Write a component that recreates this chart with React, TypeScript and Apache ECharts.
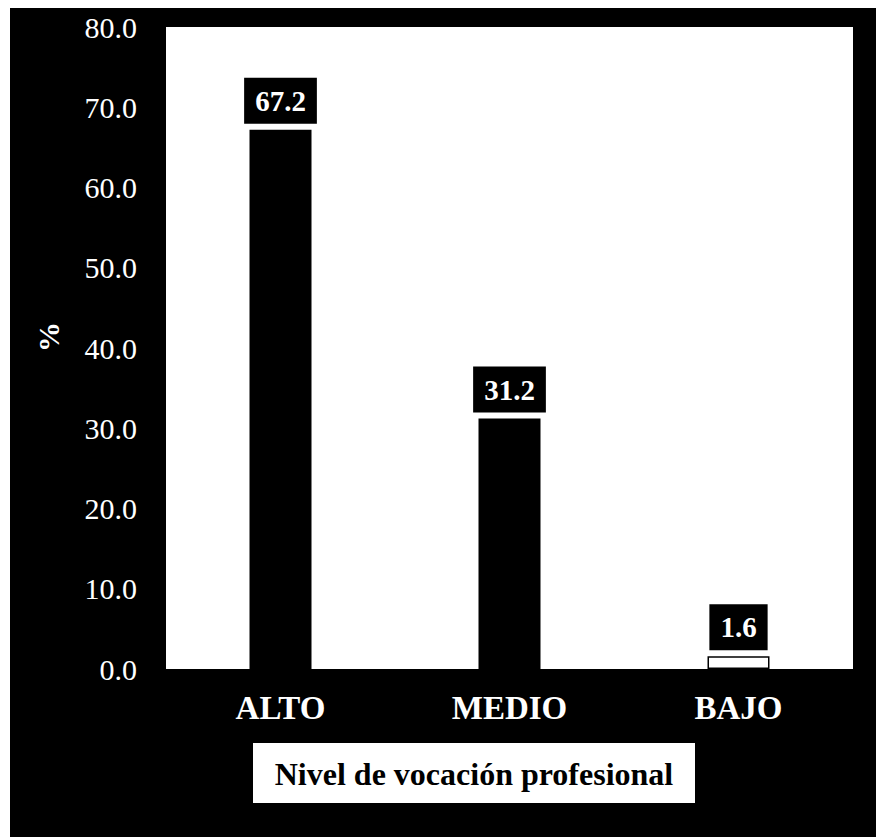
import React, { useEffect, useRef } from "react";
import * as echarts from "echarts";

const categories = ["ALTO", "MEDIO", "BAJO"];
const values = [67.2, 31.2, 1.6];
const yTicks = ["0.0", "10.0", "20.0", "30.0", "40.0", "50.0", "60.0", "70.0", "80.0"];
const yName = "%";
const xTitle = "Nivel de vocación profesional";

const SERIF = "Times New Roman, Liberation Serif, DejaVu Serif, serif";

export default function App() {
  const ref = useRef<HTMLDivElement>(null);
  useEffect(() => {
    if (!ref.current) return;
    const chart = echarts.init(ref.current, null, { renderer: "svg" });
    const data = values.map((v, i) => ({
      value: v,
      itemStyle:
        i === values.length - 1
          ? { color: "#ffffff", borderColor: "#000000", borderWidth: 1.5 }
          : { color: "#000000" },
    }));
    chart.setOption({
      animation: false,
      backgroundColor: "transparent",
      textStyle: { fontFamily: SERIF },
      graphic: [
        {
          type: "rect",
          z: -10,
          silent: true,
          shape: { x: 10, y: 8, width: 866, height: 829 },
          style: { fill: "#000000" },
        },
        {
          type: "rect",
          z: 10,
          shape: { x: 253, y: 743, width: 442, height: 60 },
          style: { fill: "#ffffff" },
        },
        {
          type: "text",
          z: 11,
          x: 474,
          y: 774,
          style: {
            text: xTitle,
            fill: "#000000",
            fontFamily: SERIF,
            fontWeight: "bold",
            fontSize: 32,
            align: "center",
            verticalAlign: "middle",
          },
        },
        {
          type: "text",
          z: 11,
          x: 48,
          y: 337,
          rotation: Math.PI / 2,
          style: {
            text: yName,
            fill: "#ffffff",
            fontFamily: SERIF,
            fontWeight: "bold",
            fontSize: 30,
            align: "center",
            verticalAlign: "middle",
          },
        },
      ],
      grid: {
        left: 166,
        top: 27,
        width: 687,
        height: 642,
        show: true,
        backgroundColor: "#ffffff",
        borderWidth: 0,
        containLabel: false,
      },
      xAxis: {
        type: "category",
        data: categories,
        axisLine: { show: false },
        axisTick: { show: false },
        axisLabel: {
          color: "#ffffff",
          fontFamily: SERIF,
          fontWeight: "bold",
          fontSize: 33,
          margin: 22,
        },
      },
      yAxis: {
        type: "value",
        min: 0,
        max: 80,
        interval: 10,
        axisLine: { show: false },
        axisTick: { show: false },
        splitLine: { show: false },
        axisLabel: {
          color: "#ffffff",
          fontFamily: SERIF,
          fontSize: 30,
          margin: 29,
          formatter: (v: number) => yTicks[Math.round(v / 10)] ?? v.toFixed(1),
        },
      },
      series: [
        {
          type: "bar",
          data,
          barWidth: 62,
          label: {
            show: true,
            position: "top",
            distance: 6,
            formatter: (p: any) => Number(p.value).toFixed(1),
            backgroundColor: "#000000",
            color: "#ffffff",
            fontFamily: SERIF,
            fontWeight: "bold",
            fontSize: 29,
            lineHeight: 30,
            padding: [8, 11, 8, 11],
          },
        },
      ],
    });
    return () => chart.dispose();
  }, []);
  return (
    <div
      ref={ref}
      style={{ position: "absolute", left: 0, top: 0, width: 876, height: 837 }}
    />
  );
}
